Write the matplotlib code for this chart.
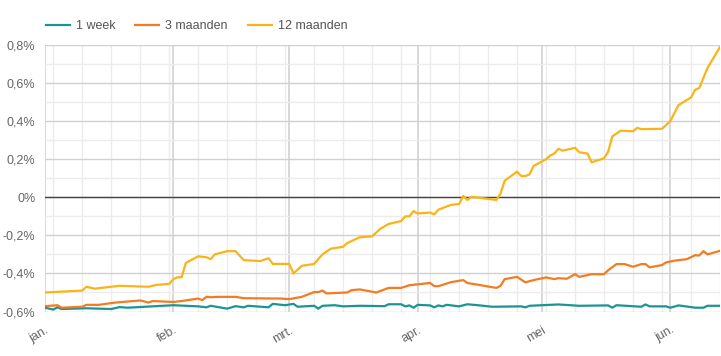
# -*- coding: utf-8 -*-
import numpy as np
import pandas as pd
import matplotlib
matplotlib.use('Agg')
import matplotlib.pyplot as plt
import matplotlib.dates as mdates
from matplotlib.ticker import FixedLocator, FuncFormatter

plt.rcParams['font.family'] = ['Liberation Sans', 'DejaVu Sans']

YEAR = '2021'

# 1 week
dates_1w = ['01-01', '01-03', '01-04', '01-05', '01-11', '01-17', '01-19', '01-21', '02-01',
            '02-07', '02-09', '02-10', '02-14', '02-16', '02-18', '02-19', '02-24', '02-25',
            '02-28', '03-02', '03-03', '03-07', '03-08', '03-09', '03-12', '03-14', '03-18',
            '03-24', '03-25', '03-28', '03-29', '03-30', '03-31', '04-01', '04-04', '04-05',
            '04-06', '04-07', '04-08', '04-11', '04-13', '04-16', '04-19', '04-26', '04-27',
            '04-28', '05-05', '05-10', '05-17', '05-18', '05-19', '05-25', '05-26', '05-27',
            '05-31', '06-01', '06-03', '06-07', '06-09', '06-10', '06-13']
vals_1w = [-0.580, -0.590, -0.578, -0.587, -0.583, -0.587, -0.577, -0.580, -0.567,
           -0.573, -0.578, -0.570, -0.585, -0.572, -0.578, -0.570, -0.578, -0.560,
           -0.567, -0.560, -0.575, -0.570, -0.585, -0.570, -0.567, -0.573, -0.570,
           -0.572, -0.562, -0.562, -0.573, -0.568, -0.580, -0.565, -0.568, -0.578,
           -0.568, -0.573, -0.565, -0.573, -0.562, -0.568, -0.575, -0.573, -0.578,
           -0.570, -0.563, -0.570, -0.568, -0.580, -0.567, -0.575, -0.563, -0.573,
           -0.573, -0.580, -0.568, -0.580, -0.580, -0.570, -0.570]

# 3 maanden
dates_3m = ['01-01', '01-04', '01-05', '01-10', '01-11', '01-14', '01-18', '01-24', '01-26',
            '01-27', '02-01', '02-03', '02-07', '02-08', '02-09', '02-10', '02-12', '02-16',
            '02-18', '02-27', '03-01', '03-04', '03-07', '03-08', '03-09', '03-10', '03-15',
            '03-16', '03-18', '03-22', '03-25', '03-28', '03-30', '04-04', '04-05', '04-06',
            '04-08', '04-09', '04-12', '04-13', '04-20', '04-21', '04-22', '04-25', '04-27',
            '04-29', '05-02', '05-04', '05-05', '05-07', '05-09', '05-10', '05-13', '05-16',
            '05-17', '05-19', '05-21', '05-23', '05-25', '05-26', '05-27', '05-30', '05-31',
            '06-02', '06-05', '06-07', '06-08', '06-09', '06-10', '06-13']
vals_3m = [-0.572, -0.567, -0.580, -0.575, -0.565, -0.565, -0.553, -0.542, -0.553,
           -0.545, -0.550, -0.545, -0.532, -0.540, -0.523, -0.525, -0.523, -0.523,
           -0.530, -0.532, -0.535, -0.523, -0.498, -0.498, -0.490, -0.505, -0.500,
           -0.488, -0.484, -0.500, -0.476, -0.476, -0.462, -0.450, -0.467, -0.467,
           -0.453, -0.446, -0.435, -0.450, -0.476, -0.465, -0.430, -0.418, -0.447,
           -0.435, -0.421, -0.430, -0.425, -0.428, -0.404, -0.418, -0.404, -0.404,
           -0.383, -0.351, -0.351, -0.365, -0.351, -0.351, -0.368, -0.356, -0.342,
           -0.333, -0.325, -0.304, -0.306, -0.283, -0.300, -0.281]

# 12 maanden
dates_12m = ['01-01', '01-10', '01-11', '01-13', '01-19', '01-26', '01-28', '01-31', '02-01',
             '02-02', '02-03', '02-04', '02-07', '02-09', '02-10', '02-11', '02-14', '02-16',
             '02-18', '02-22', '02-24', '02-25', '03-01', '03-02', '03-04', '03-07', '03-09',
             '03-11', '03-14', '03-15', '03-18', '03-21', '03-23', '03-25', '03-28', '03-29',
             '03-30', '03-31', '04-01', '04-04', '04-05', '04-06', '04-09', '04-11', '04-12',
             '04-13', '04-14', '04-20', '04-21', '04-22', '04-25', '04-26', '04-27', '04-28',
             '04-29', '05-02', '05-03', '05-04', '05-05', '05-06', '05-09', '05-10', '05-12',
             '05-13', '05-16', '05-17', '05-18', '05-20', '05-23', '05-24', '05-25', '05-30',
             '06-01', '06-03', '06-06', '06-07', '06-08', '06-10', '06-13']
vals_12m = [-0.500, -0.490, -0.470, -0.480, -0.465, -0.470, -0.460, -0.455, -0.430,
            -0.420, -0.420, -0.345, -0.310, -0.315, -0.325, -0.300, -0.283, -0.283,
            -0.330, -0.335, -0.320, -0.350, -0.350, -0.400, -0.360, -0.350, -0.300,
            -0.270, -0.260, -0.240, -0.210, -0.205, -0.165, -0.140, -0.125, -0.100,
            -0.100, -0.072, -0.085, -0.080, -0.090, -0.065, -0.040, -0.035, 0.007,
            -0.014, 0.003, -0.014, 0.020, 0.087, 0.135, 0.112, 0.112, 0.120,
            0.165, 0.200, 0.220, 0.230, 0.255, 0.245, 0.260, 0.237, 0.230,
            0.184, 0.205, 0.240, 0.320, 0.350, 0.347, 0.365, 0.358, 0.360,
            0.400, 0.485, 0.524, 0.565, 0.574, 0.680, 0.790]

labels = ['1 week', '3 maanden', '12 maanden']
colors = ['#1c9494', '#f47c20', '#fbb416']
month_labels = ['jan.', 'feb.', 'mrt.', 'apr.', 'mei', 'jun.']


def to_dates(d):
    return pd.to_datetime([YEAR + '-' + s for s in d])


def pct(v, pos=None):
    if abs(v) < 1e-9:
        return '0%'
    return ('%.1f%%' % v).replace('.', ',')


def main():
    fig = plt.figure(figsize=(7.21, 3.56), dpi=100)
    ax = fig.add_axes([0.0624, 0.125, 0.9362, 0.7485])

    series = [(dates_1w, vals_1w), (dates_3m, vals_3m), (dates_12m, vals_12m)]
    for (d, v), lab, c in zip(series, labels, colors):
        ax.plot(to_dates(d), v, color=c, lw=1.6, label=lab, zorder=3)

    ax.set_xlim(pd.Timestamp(YEAR + '-01-01'), pd.Timestamp(YEAR + '-06-13'))
    ax.set_ylim(-0.6, 0.8)

    # grid
    ax.yaxis.set_major_locator(FixedLocator(np.arange(-0.6, 0.81, 0.2)))
    ax.yaxis.set_minor_locator(FixedLocator(np.arange(-0.5, 0.8, 0.2)))
    ax.yaxis.set_major_formatter(FuncFormatter(pct))
    ax.xaxis.set_minor_locator(mdates.WeekdayLocator(byweekday=mdates.SU))
    ax.grid(which='major', axis='y', color='#d0d0d0', lw=1.0, zorder=0)
    ax.grid(which='minor', axis='y', color='#ececec', lw=1.0, zorder=0)
    ax.grid(which='major', axis='x', color='#d2d2d2', lw=1.2, zorder=0)
    ax.grid(which='minor', axis='x', color='#ececec', lw=1.0, zorder=0)
    ax.axhline(0, color='#444444', lw=1.0, zorder=2)

    for s in ax.spines.values():
        s.set_visible(False)
    ax.tick_params(which='both', length=0)
    ax.tick_params(axis='y', labelsize=9, labelcolor='#666666', pad=7)

    months = pd.date_range(YEAR + '-01-01', periods=6, freq='MS')
    ax.set_xticks(months)
    ax.set_xticklabels(month_labels, rotation=30, ha='right', rotation_mode='anchor',
                       fontsize=9, color='#666666')
    ax.tick_params(axis='x', pad=9)

    fig.legend(loc='upper left', bbox_to_anchor=(0.048, 0.975), ncol=3, frameon=False,
               fontsize=9, handlelength=1.9, columnspacing=1.6, handletextpad=0.5,
               labelcolor='#555555')

    fig.savefig('out.png', dpi=100)


if __name__ == '__main__':
    main()
